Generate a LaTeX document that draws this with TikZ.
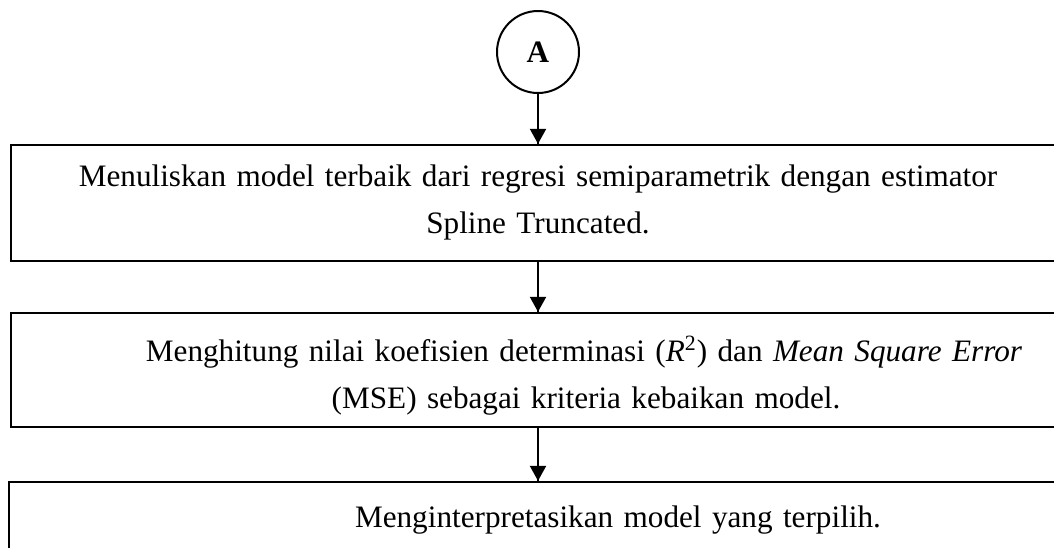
\documentclass[tikz,border=0pt]{standalone}
\usepackage{fontspec}
\setmainfont{Liberation Serif}
\usetikzlibrary{arrows.meta}
\usetikzlibrary{decorations.markings}
\tikzset{flow/.style = {decoration={markings,
                                    mark=at position 1 with {\arrow{Triangle[width=8pt,length=7.5pt]}}},
                        postaction={decorate}}}
\tikzset{stepbox/.style = {draw, rectangle, line width = 1.15pt, inner sep = 0,
                           minimum width = 527pt, text width = 527pt, align = center,
                           font = \fontsize{15.6}{23.5}\selectfont}}
\tikzset{conn/.style = {draw, circle, line width = 1pt, inner sep = 0, minimum size = 41pt,
                        font = \fontsize{15.6}{18}\selectfont\bfseries}}
\newcommand{\topgap}[1]{\rule{0pt}{#1}}
\newcommand{\botgap}[1]{\rule[-#1]{0pt}{#1}}

\begin{document}
\begin{tikzpicture}[x = 0.5pt, y = -0.5pt]
    \useasboundingbox (0, 0) rectangle (1054, 547);

    \node (conA) at (538, 52) [conn] {A};

    \node (model) at (538, 203) [stepbox]
        {\topgap{20.5pt}Menuliskan model terbaik dari regresi semiparametrik dengan estimator\\
         Spline Truncated.\botgap{14pt}};

    \node (kriteria) at (538, 370) [stepbox]
        {\topgap{24pt}\hspace*{46pt}Menghitung nilai koefisien determinasi (\textit{R}\textsuperscript{2}) dan \textit{Mean Square Error}\\
         \hspace*{48pt}(MSE) sebagai kriteria kebaikan model.\botgap{9.5pt}};

    \node (tafsir) at (538, 521) [stepbox, minimum width = 529pt, text width = 529pt]
        {\topgap{22.5pt}\hspace*{80pt}Menginterpretasikan model yang terpilih.\botgap{16.5pt}};

    \draw [line width = 1pt, flow] (conA) -- (model);
    \draw [line width = 1pt, flow] (model) -- (kriteria);
    \draw [line width = 1pt, flow] (kriteria) -- (tafsir);
\end{tikzpicture}
\end{document}
